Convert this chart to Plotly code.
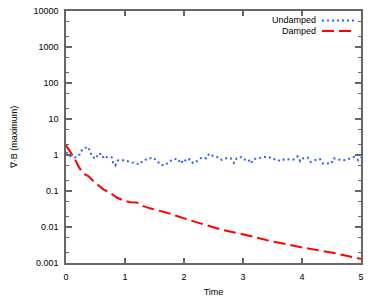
import plotly.graph_objects as go

# Undamped series (time, max |div B|)
t_undamped = [0.0, 0.085, 0.153, 0.237, 0.271, 0.31, 0.368, 0.407, 0.441, 0.508, 0.542, 0.61, 0.644,
              0.695, 0.775, 0.797, 0.836, 0.876, 0.944, 1.029, 1.119, 1.186, 1.242, 1.31, 1.395,
              1.469, 1.547, 1.605, 1.69, 1.746, 1.825, 1.893, 1.949, 1.995, 2.046, 2.097, 2.153,
              2.22, 2.3, 2.378, 2.429, 2.492, 2.563, 2.64, 2.712, 2.792, 2.847, 2.893, 2.966,
              3.022, 3.09, 3.131, 3.186, 3.276, 3.356, 3.44, 3.497, 3.571, 3.627, 3.7, 3.775,
              3.86, 3.927, 3.971, 4.022, 4.097, 4.147, 4.232, 4.305, 4.356, 4.424, 4.497, 4.537,
              4.61, 4.683, 4.741, 4.819, 4.886, 4.956, 5.0]
v_undamped = [1.2, 0.90, 0.85, 1.05, 1.38, 1.53, 1.7, 1.29, 0.90, 0.79, 1.09, 1.05, 0.79,
              0.88, 0.86, 0.62, 0.51, 0.70, 0.73, 0.68, 0.62, 0.58, 0.55, 0.71, 0.79,
              0.85, 0.68, 0.53, 0.53, 0.66, 0.76, 0.79, 0.58, 0.76, 0.66, 0.77, 0.60,
              0.68, 0.85, 0.81, 1.09, 0.94, 0.88, 0.73, 0.81, 0.81, 0.60, 0.81, 0.88,
              0.75, 0.76, 0.58, 0.77, 0.83, 0.88, 0.88, 0.76, 0.76, 0.68, 0.76, 0.77,
              0.75, 0.92, 0.67, 0.81, 0.85, 0.64, 0.73, 0.77, 0.58, 0.58, 0.58, 0.81,
              0.77, 0.71, 0.73, 0.81, 0.88, 0.71, 0.85]

# Damped series
t_damped = [0.0, 0.068, 0.153, 0.208, 0.265, 0.322, 0.378, 0.463, 0.548, 0.632, 0.746, 0.859,
            0.972, 1.085, 1.198, 1.31, 1.424, 1.706, 2.05, 2.615, 2.995, 3.46, 4.0, 4.54, 5.0]
v_damped = [1.86, 1.29, 0.76, 0.49, 0.36, 0.29, 0.26, 0.19, 0.147, 0.111, 0.090, 0.066,
            0.055, 0.049, 0.048, 0.038, 0.033, 0.025, 0.0164, 0.0086, 0.0063, 0.0041, 0.0027,
            0.0019, 0.0013]

x_ticks = [0, 1, 2, 3, 4, 5]
y_tickvals = [0.001, 0.01, 0.1, 1, 10, 100, 1000, 10000]
y_ticktext = ["0.001", "0.01", "0.1", "1", "10", "100", "1000", "10000"]
series_names = ["Undamped", "Damped"]

BLUE = "#2f62f0"
RED = "#ff0000"
FONT = "Liberation Sans, Arial, sans-serif"
BLUE_DASH = "2px,3px"
RED_DASH = "12px,5px"

fig = go.Figure()
fig.add_trace(go.Scatter(x=t_undamped, y=v_undamped, mode="lines", name=series_names[0],
                         line=dict(color=BLUE, width=2, dash=BLUE_DASH), showlegend=False))
fig.add_trace(go.Scatter(x=t_damped, y=v_damped, mode="lines", name=series_names[1],
                         line=dict(color=RED, width=2, dash=RED_DASH), showlegend=False))

# legend drawn gnuplot-style: text on the left, sample on the right
for i, (name, col, dash) in enumerate([(series_names[0], BLUE, BLUE_DASH),
                                       (series_names[1], RED, RED_DASH)]):
    ypix = 20.5 + i * 10.5
    yp = 1 - (ypix - 11) / 252
    fig.add_annotation(xref="paper", yref="paper", x=(318 - 66) / 295, y=yp, text=name,
                       showarrow=False, xanchor="right", yanchor="middle",
                       font=dict(family=FONT, size=9, color="#000"))
    fig.add_shape(type="line", xref="paper", yref="paper",
                  x0=(322 - 66) / 295, x1=(356 - 66) / 295, y0=yp, y1=yp,
                  line=dict(color=col, width=2, dash=dash))

axis_common = dict(showline=True, linecolor="#666", linewidth=1.5, mirror="allticks",
                   ticks="inside", tickcolor="#666", tickwidth=1.5, showgrid=False,
                   zeroline=False, automargin=False,
                   tickfont=dict(family=FONT, size=9, color="#000"))

fig.update_xaxes(range=[0, 5], tickvals=x_ticks, ticklen=5,
                 title=dict(text="Time", font=dict(family=FONT, size=9, color="#000"), standoff=8),
                 ticklabelstandoff=4, **axis_common)
fig.update_yaxes(type="log", range=[-3, 4], tickvals=y_tickvals, ticktext=y_ticktext, ticklen=6,
                 minor=dict(ticks="inside", dtick="D2", ticklen=3, tickcolor="#666", tickwidth=1.2),
                 title=dict(text="∇·B (maximum)", font=dict(family=FONT, size=9, color="#000"), standoff=14),
                 ticklabelstandoff=4, **axis_common)

fig.update_layout(width=374, height=299, margin=dict(l=66, r=13, t=11, b=36),
                  paper_bgcolor="white", plot_bgcolor="white", showlegend=False,
                  font=dict(family=FONT, size=9, color="#000"))

fig.write_html("out.html", config={"displayModeBar": False},
               post_script="document.body.style.margin='0';document.body.style.overflow='hidden';")
